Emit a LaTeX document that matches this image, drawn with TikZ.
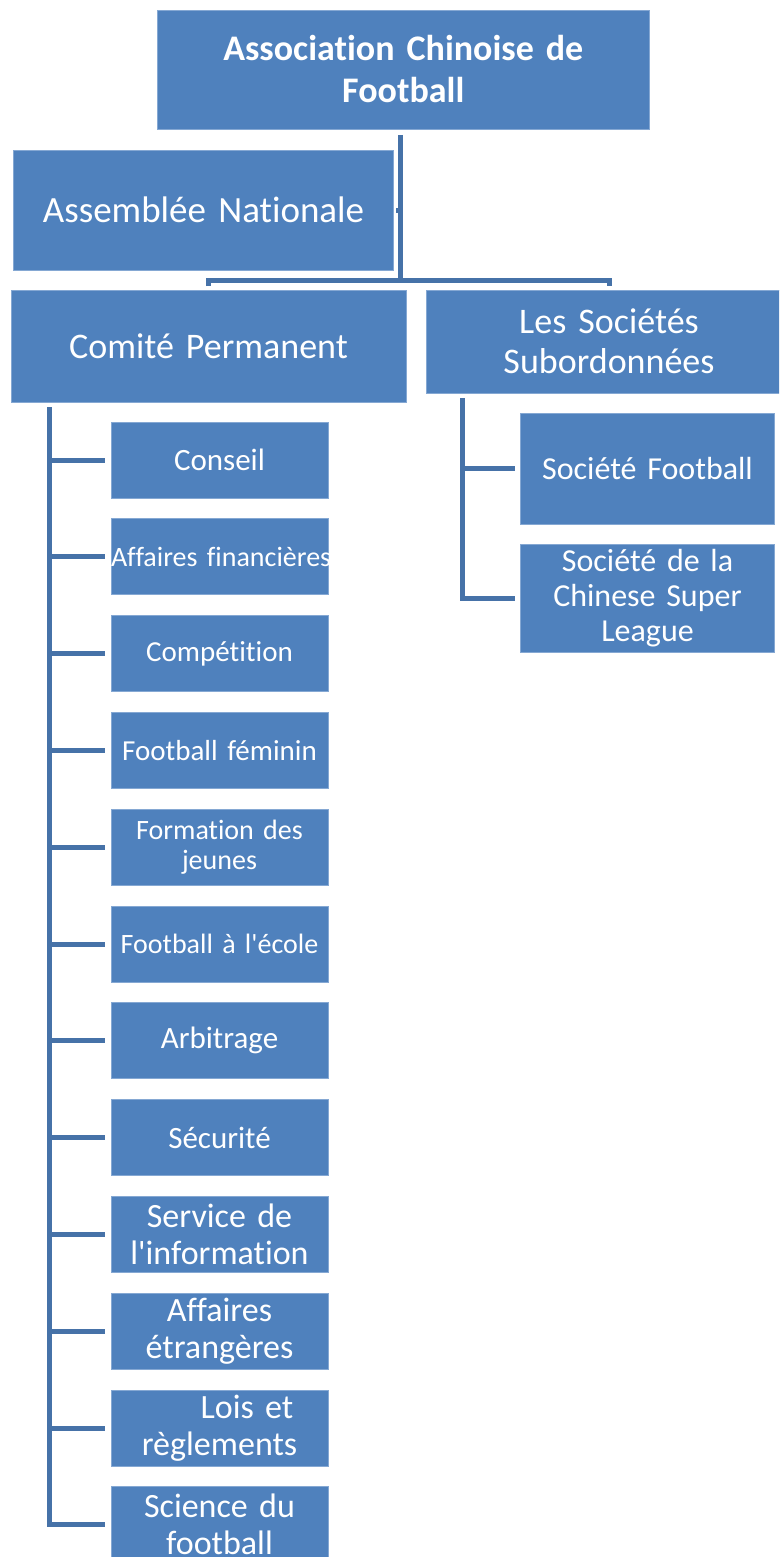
\documentclass[tikz,border=0pt]{standalone}
\usepackage{fontspec}
\setmainfont{Carlito}
\newfontfamily\calib{Carlito}[Ligatures={NoCommon}]
\usetikzlibrary{calc}
\definecolor{boxblue}{HTML}{4F81BD}
\definecolor{edgeblue}{HTML}{85A8D3}
\definecolor{linkblue}{HTML}{4672A8}
\newcommand\fsz[2]{\calib\fontsize{#1}{#2}\selectfont}
\begin{document}
\begin{tikzpicture}[x=1pt,y=-1pt,
  box/.style={fill=boxblue, draw=edgeblue, line width=0.8pt, inner sep=0pt, outer sep=0pt,
              text=white, align=center},
  small/.style={box, minimum width=217pt, text width=217pt, minimum height=76pt},
  conn/.style={draw=linkblue, line width=5pt}]
\useasboundingbox (0,0) rectangle (779,1557);
\clip (0,0) rectangle (779,1557);
% top level
\node[box, minimum width=492.5pt, text width=492.5pt, minimum height=119pt,
      font=\bfseries\fsz{36}{42}] (top) at (403.25,69.5) {Association Chinoise de\\Football};
\node[box, minimum width=380pt, text width=380pt, minimum height=120pt,
      font=\fsz{37}{41}] (assemblee) at (203.5,210) {Assemblée Nationale};
\node[box, minimum width=395pt, text width=395pt, minimum height=112pt,
      font=\fsz{36}{40}] (comite) at (208.5,346) {Comité Permanent};
\node[box, minimum width=365pt, text width=365pt, minimum height=103pt,
      font=\fsz{36}{40}] (soc) at (609,341.5) {Les Sociétés\\Subordonnées};
% right children
\node[box, minimum width=254pt, text width=254pt, minimum height=111pt,
      font=\fsz{32}{35}] (sf) at (647.5,468.5) {Société Football};
\node[box, minimum width=254pt, text width=254pt, minimum height=108pt,
      font=\fsz{32}{35}] (csl) at (647.5,598) {Société de la\\Chinese Super\\League};
% left children
\node[small, font=\fsz{31}{34}] (s1) at (219.5,460) {Conseil};
\node[small, font=\fsz{28}{30}] (s2) at (219.5,556.8) {\mbox{Affaires financières}};
\node[small, font=\fsz{29}{31}] (s3) at (219.5,653.6) {Compétition};
\node[small, font=\fsz{29}{31}] (s4) at (219.5,750.4) {Football féminin};
\node[small, font=\fsz{28}{30}] (s5) at (219.5,847.2) {Formation des\\jeunes};
\node[small, font=\fsz{28}{30}] (s6) at (219.5,944) {Football à l'école};
\node[small, font=\fsz{31}{34}] (s7) at (219.5,1040.8) {Arbitrage};
\node[small, font=\fsz{31}{34}] (s8) at (219.5,1137.6) {Sécurité};
\node[small, font=\fsz{34}{37}] (s9) at (219.5,1234.4) {Service de\\l'information};
\node[small, font=\fsz{34}{37}] (s10) at (219.5,1331.2) {Affaires\\étrangères};
\node[small, font=\fsz{34}{37}] (s11) at (219.5,1428) {\hspace*{55pt}Lois et\\règlements};
\node[small, font=\fsz{34}{37}] (s12) at (219.5,1524.8) {Science du\\football};
% connectors
\coordinate (j0) at (400.5,135);
\coordinate (j1) at (400.5,280);
\draw[conn] (j0) -- (j1);
\draw[conn] (assemblee.east -| j0) -- ++(-5,0);
\draw[conn] ($(comite.north)+(0,-4)$) |- (j1) -| ($(soc.north)+(0,-4)$);
\coordinate (lv) at (49,407);
\draw[conn] (lv) |- ([xshift=-6pt]s12.west);
\foreach \i in {1,...,11}{
  \draw[conn] (lv |- s\i.west) -- ([xshift=-6pt]s\i.west);
}
\coordinate (rv) at (462,398);
\draw[conn] (rv) |- ([xshift=-6pt]csl.west);
\draw[conn] (rv |- sf.west) -- ([xshift=-6pt]sf.west);
\end{tikzpicture}
\end{document}
